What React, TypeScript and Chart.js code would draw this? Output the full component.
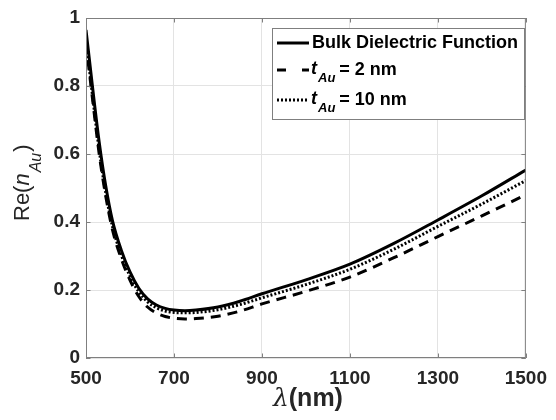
import { useEffect, useRef } from "react";
import { Chart, registerables } from "chart.js";

Chart.register(...registerables);

const wavelength = [500, 515, 530, 545, 560, 580, 600, 620, 640, 660, 680, 700, 725, 750, 800, 850, 900, 1000, 1100, 1200, 1300, 1400, 1500];
const bulkRe = [0.965, 0.795, 0.635, 0.505, 0.405, 0.318, 0.253, 0.205, 0.174, 0.156, 0.146, 0.141, 0.139, 0.141, 0.15, 0.167, 0.189, 0.23, 0.276, 0.337, 0.406, 0.477, 0.553];
const t2Re = [0.925, 0.76, 0.6, 0.475, 0.378, 0.293, 0.229, 0.181, 0.15, 0.132, 0.122, 0.117, 0.115, 0.116, 0.123, 0.138, 0.159, 0.196, 0.238, 0.295, 0.357, 0.418, 0.48];
const t10Re = [0.935, 0.77, 0.612, 0.485, 0.388, 0.304, 0.241, 0.195, 0.165, 0.148, 0.138, 0.134, 0.133, 0.134, 0.142, 0.157, 0.177, 0.216, 0.261, 0.32, 0.387, 0.453, 0.522];

const xTicks = [500, 700, 900, 1100, 1300, 1500];
const yTicks = [0, 0.2, 0.4, 0.6, 0.8, 1];
const yTickLabels = ["0", "0.2", "0.4", "0.6", "0.8", "1"];

const seriesNames = ["Bulk Dielectric Function", "t_Au = 2 nm", "t_Au = 10 nm"];

const FONT = "'Liberation Sans', Arial, sans-serif";
const TXT = "#262626";
const AXIS = "#7f7f7f";
const GRID = "#e3e3e3";

const decorPlugin = {
  id: "decor",
  afterDraw(chart: any) {
    const ctx = chart.ctx as CanvasRenderingContext2D;
    const { left, top, right, bottom } = chart.chartArea;
    const xs = chart.scales.x;
    const ys = chart.scales.y;
    ctx.save();
    // box
    ctx.strokeStyle = AXIS;
    ctx.lineWidth = 1;
    ctx.setLineDash([]);
    ctx.strokeRect(left + 0.5, top + 0.5, right - left - 1, bottom - top - 1);
    // inward ticks
    const tl = 4.5;
    ctx.beginPath();
    xTicks.forEach((v) => {
      const px = Math.round(xs.getPixelForValue(v)) + 0.5;
      ctx.moveTo(px, bottom);
      ctx.lineTo(px, bottom - tl);
      ctx.moveTo(px, top);
      ctx.lineTo(px, top + tl);
    });
    yTicks.forEach((v) => {
      const py = Math.round(ys.getPixelForValue(v)) + 0.5;
      ctx.moveTo(left, py);
      ctx.lineTo(left + tl, py);
      ctx.moveTo(right, py);
      ctx.lineTo(right - tl, py);
    });
    ctx.stroke();

    // legend
    const bx = 272, by = 28, bw = 252, bh = 91;
    ctx.fillStyle = "#ffffff";
    ctx.fillRect(bx, by, bw, bh);
    ctx.strokeStyle = AXIS;
    ctx.strokeRect(bx + 0.5, by + 0.5, bw, bh);

    const rows = [43, 70, 100];
    const dashes = [[], [9, 16], [2, 2]];
    ctx.strokeStyle = "#000";
    ctx.lineWidth = 3;
    rows.forEach((ry, i) => {
      ctx.setLineDash(dashes[i]);
      ctx.beginPath();
      ctx.moveTo(277, ry);
      ctx.lineTo(309, ry);
      ctx.stroke();
    });
    ctx.setLineDash([]);
    ctx.fillStyle = "#000";
    ctx.textBaseline = "middle";
    ctx.textAlign = "left";
    ctx.font = `bold 18px ${FONT}`;
    ctx.fillText(seriesNames[0], 312, rows[0]);
    [1, 2].forEach((i) => {
      const ry = rows[i];
      const rest = seriesNames[i].split("=")[1];
      let x = 311;
      ctx.font = `italic bold 18px ${FONT}`;
      ctx.fillText("t", x, ry - 1);
      x += ctx.measureText("t").width + 1;
      ctx.font = `italic bold 13px ${FONT}`;
      ctx.fillText("Au", x, ry + 8);
      x += ctx.measureText("Au").width + 4;
      ctx.font = `bold 18px ${FONT}`;
      ctx.fillText("=" + rest, x, ry);
    });

    // y title
    ctx.save();
    ctx.translate(29, 221);
    ctx.rotate(-Math.PI / 2);
    ctx.fillStyle = TXT;
    ctx.textBaseline = "alphabetic";
    let x = 0;
    ctx.font = `22px ${FONT}`;
    ctx.fillText("Re(", x, 0);
    x += ctx.measureText("Re(").width;
    ctx.font = `italic 22px ${FONT}`;
    ctx.fillText("n", x, 0);
    x += ctx.measureText("n").width + 1;
    ctx.font = `italic 16px ${FONT}`;
    ctx.fillText("Au", x, 12);
    x += ctx.measureText("Au").width + 1;
    ctx.font = `22px ${FONT}`;
    ctx.fillText(")", x, 0);
    ctx.restore();

    // x title
    ctx.fillStyle = TXT;
    ctx.textBaseline = "alphabetic";
    ctx.font = `italic 25px 'DejaVu Serif', serif`;
    const lw = ctx.measureText("\u03bb").width;
    ctx.font = `bold 25px ${FONT}`;
    const rw = ctx.measureText("(nm)").width;
    const cx = (left + right) / 2 + 2;
    const sx = cx - (lw + rw) / 2;
    ctx.font = `italic 25px 'DejaVu Serif', serif`;
    ctx.fillText("\u03bb", sx, 406);
    ctx.font = `bold 25px ${FONT}`;
    ctx.fillText("(nm)", sx + lw, 406);
    ctx.restore();
  },
};

export default function App() {
  const ref = useRef<HTMLCanvasElement | null>(null);
  useEffect(() => {
    if (!ref.current) return;
    const mk = (x: number[], y: number[]) => x.map((v, i) => ({ x: v, y: y[i] }));
    const chart = new Chart(ref.current, {
      type: "line",
      data: {
        datasets: [
          {
            label: seriesNames[1],
            data: mk(wavelength, t2Re),
            borderColor: "#000",
            borderWidth: 3,
            borderDash: [10, 7],
            pointRadius: 0,
            cubicInterpolationMode: "monotone",
          },
          {
            label: seriesNames[2],
            data: mk(wavelength, t10Re),
            borderColor: "#000",
            borderWidth: 3,
            borderDash: [2, 2],
            pointRadius: 0,
            cubicInterpolationMode: "monotone",
          },
          {
            label: seriesNames[0],
            data: mk(wavelength, bulkRe),
            borderColor: "#000",
            borderWidth: 3,
            pointRadius: 0,
            cubicInterpolationMode: "monotone",
          },
        ],
      },
      options: {
        animation: false,
        responsive: true,
        maintainAspectRatio: false,
        layout: { padding: { top: 18, right: 22, left: 0, bottom: 0 } },
        plugins: { legend: { display: false }, tooltip: { enabled: false } },
        scales: {
          x: {
            type: "linear",
            min: 500,
            max: 1500,
            afterBuildTicks: (s: any) => {
              s.ticks = xTicks.map((v) => ({ value: v }));
            },
            afterFit: (s: any) => {
              s.height = 62;
            },
            ticks: {
              color: TXT,
              font: { family: FONT, size: 19, weight: "bold" },
              padding: 9,
              maxRotation: 0,
              autoSkip: false,
              callback: (v: any) => String(v),
            },
            grid: { color: GRID, drawTicks: false },
            border: { display: false },
          },
          y: {
            type: "linear",
            min: 0,
            max: 1,
            afterBuildTicks: (s: any) => {
              s.ticks = yTicks.map((v) => ({ value: v }));
            },
            afterFit: (s: any) => {
              s.width = 86;
            },
            ticks: {
              color: TXT,
              font: { family: FONT, size: 19, weight: "bold" },
              padding: 6,
              autoSkip: false,
              callback: (_v: any, i: number) => yTickLabels[i],
            },
            grid: { color: GRID, drawTicks: false },
            border: { display: false },
          },
        },
      },
      plugins: [decorPlugin],
    });
    return () => chart.destroy();
  }, []);
  return (
    <div style={{ position: "absolute", left: 0, top: 0, width: 556, height: 420, background: "#fff" }}>
      <canvas ref={ref} />
    </div>
  );
}
